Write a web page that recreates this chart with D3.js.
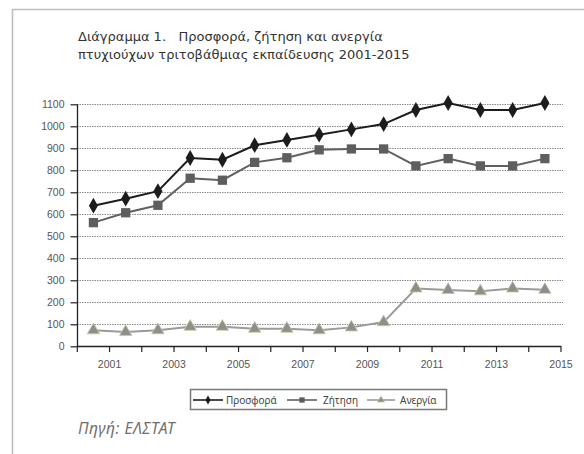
<!DOCTYPE html>
<html><head><meta charset="utf-8">
<script src="https://cdn.jsdelivr.net/npm/d3@7"></script>
<style>body{margin:0;background:#fff}svg{display:block}</style>
</head><body><svg id="c" width="584" height="454"></svg>
<script>
const categories = d3.range(15).map(i => String(2001 + i));
const tickLabels = ["2001","2003","2005","2007","2009","2011","2013","2015"];
const yTicks = [0,100,200,300,400,500,600,700,800,900,1000,1100];
const prosfora = [639, 671, 705, 856, 848, 914, 938, 962, 986, 1010, 1074, 1106, 1074, 1074, 1106];
const zitisi   = [562, 607, 641, 764, 755, 836, 857, 893, 897, 897, 820, 853, 820, 820, 853];
const anergia  = [73, 65, 73, 89, 89, 80, 80, 73, 86, 110, 263, 256, 250, 263, 257];

const svg = d3.select("#c");
// frame
svg.append("path").attr("d","M12.5,460 L12.5,9.5 L590,9.5").attr("fill","none").attr("stroke","#bdbdbd").attr("stroke-width",1.5);

// title
const title = svg.append("text").attr("font-family","DejaVu Sans").attr("font-size",13).attr("fill","#333");
title.append("tspan").attr("x",78).attr("y",41).attr("xml:space","preserve").text("Διάγραμμα 1.   Προσφορά, ζήτηση και ανεργία");
title.append("tspan").attr("x",78).attr("y",59).text("πτυχιούχων τριτοβάθμιας εκπαίδευσης 2001-2015");

const x = d3.scaleBand().domain(categories).range([77.3, 561]);
const y = d3.scaleLinear().domain([0,1100]).range([346.3, 104.3]);

// gridlines
svg.append("g").selectAll("line").data(yTicks.filter(d=>d>0)).join("line")
  .attr("x1",77).attr("x2",563).attr("y1",d=>Math.round(y(d))+0.5).attr("y2",d=>Math.round(y(d))+0.5)
  .attr("stroke","#8a8a8a").attr("stroke-width",1).attr("stroke-dasharray","1.5,1");

// y axis
const yAxis = d3.axisLeft(y).tickValues(yTicks).tickSize(7).tickPadding(6).tickFormat(d3.format("d"));
const gy = svg.append("g").attr("transform","translate(77.5,0)").call(yAxis);
gy.select(".domain").attr("stroke","#222").attr("stroke-width",1.3).attr("d","M0,"+y(1100)+"V"+y(0));
gy.selectAll(".tick line").attr("stroke","#222").attr("stroke-width",1.2);
gy.selectAll(".tick text").attr("font-family","Liberation Sans").attr("font-size",10.5).attr("fill","#555");

// x axis: ticks at band boundaries, labels at right edge of even bands
const bounds = d3.range(16).map(i => x.range()[0] + i * x.step());
const gx = svg.append("g");
gx.append("line").attr("x1",77).attr("x2",561).attr("y1",346.5).attr("y2",346.5).attr("stroke","#222").attr("stroke-width",1.3);
gx.selectAll("line.t").data(bounds).join("line").attr("class","t")
  .attr("x1",d=>d).attr("x2",d=>d).attr("y1",346).attr("y2",352).attr("stroke","#222").attr("stroke-width",1.2);
gx.selectAll("text").data(tickLabels).join("text")
  .attr("x",(d)=> x(d) + x.step()).attr("y",368).attr("text-anchor","middle")
  .attr("font-family","Liberation Sans").attr("font-size",10.5).attr("fill","#555").text(d=>d);

const cx = i => x(categories[i]) + x.bandwidth()/2;
const line = d3.line().x((d,i)=>cx(i)).y(d=>y(d));

// series
const series = [
  {name:"Προσφορά", data:prosfora, stroke:"#1c1c1c", sym:d3.symbolDiamond, size:72, fill:"#1c1c1c", mstroke:"none"},
  {name:"Ζήτηση", data:zitisi, stroke:"#606060", sym:d3.symbolSquare, size:86, fill:"#5e5e5e", mstroke:"none"},
  {name:"Ανεργία", data:anergia, stroke:"#9a9a9a", sym:d3.symbolTriangle, size:66, fill:"#8e8e8e", mstroke:"#c9c99b"}
];
series.slice().reverse().forEach(s => {
  svg.append("path").datum(s.data).attr("d",line).attr("fill","none").attr("stroke",s.stroke).attr("stroke-width",2);
  svg.append("g").selectAll("path").data(s.data).join("path")
    .attr("transform",(d,i)=>`translate(${cx(i)},${y(d)})`)
    .attr("d",d3.symbol(s.sym, s.size))
    .attr("fill",s.fill).attr("stroke",s.mstroke).attr("stroke-width",0.8);
});

// legend
const lg = svg.append("g");
lg.append("rect").attr("x",190.5).attr("y",389.5).attr("width",256).attr("height",20).attr("fill","#fff").attr("stroke","#7a7a7a").attr("stroke-width",1.5);
const legendPos = [{x1:193,x2:223,tx:226},{x1:287,x2:317,tx:323},{x1:367,x2:395,tx:400}];
const ly = 400;
series.forEach((s,i) => {
  const p = legendPos[i];
  lg.append("line").attr("x1",p.x1).attr("x2",p.x2).attr("y1",ly).attr("y2",ly).attr("stroke",s.stroke).attr("stroke-width",1.6);
  lg.append("path").attr("transform",`translate(${(p.x1+p.x2)/2},${ly})`).attr("d",d3.symbol(s.sym, s.size*0.33))
    .attr("fill",s.fill).attr("stroke",s.mstroke).attr("stroke-width",0.6);
  lg.append("text").attr("x",p.tx).attr("y",ly+3.5).attr("font-family","Noto Sans").attr("font-size",10).attr("fill","#444").text(s.name);
});

// source
svg.append("text").attr("x",78).attr("y",434).attr("font-family","Noto Sans").attr("font-style","italic").attr("font-size",15.5).attr("letter-spacing",0.5).attr("fill","#707070").text("Πηγή: ΕΛΣΤΑΤ");
</script></body></html>
